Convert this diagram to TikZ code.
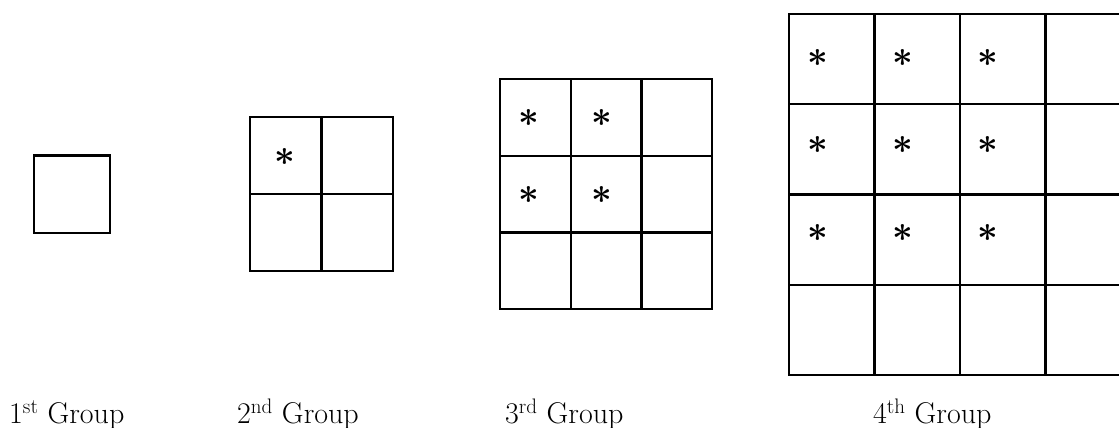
\documentclass[tikz,border=0pt]{standalone}
\begin{document}
\begin{tikzpicture}[x=1pt,y=-1pt,
  cell/.style={draw, line width=2.4pt, inner sep=0pt, outer sep=0pt},
  star/.style={inner sep=0pt, font=\fontsize{24}{24}\selectfont\boldmath, scale=1.45},
  lab/.style={anchor=base west, inner sep=0pt, font=\fontsize{30}{32}\selectfont}]
\useasboundingbox (0,0) rectangle (1119,428);
\clip (0,0) rectangle (1119,428);
% group 1
\node[cell, minimum width=76pt, minimum height=77.5pt] (g1) at (72,194.25) {};
% group 2
\foreach \i in {0,1}{\foreach \j in {0,1}{
  \node[cell, minimum width=71.5pt, minimum height=77pt] (g2-\i-\j) at ({250+71.5*(\i+0.5)},{117+77*(\j+0.5)}) {};
}}
% group 3
\foreach \i in {0,1,2}{\foreach \j in {0,1,2}{
  \node[cell, minimum width=70.7pt, minimum height=76.7pt] (g3-\i-\j) at ({500+70.7*(\i+0.5)},{79+76.7*(\j+0.5)}) {};
}}
% group 4
\foreach \i in {0,1,2,3}{\foreach \j in {0,1,2,3}{
  \node[cell, minimum width=85.5pt, minimum height=90.25pt] (g4-\i-\j) at ({789+85.5*(\i+0.5)},{14+90.25*(\j+0.5)}) {};
}}
% stars
\node[star] (s2) at (285,157) {$\ast$};
\foreach \x [count=\i] in {529,602}{\foreach \y [count=\j] in {118,195}{
  \node[star] (s3-\i-\j) at (\x,\y) {$\ast$};
}}
\foreach \x [count=\i] in {818,903,988}{\foreach \y [count=\j] in {58,145,233}{
  \node[star] (s4-\i-\j) at (\x,\y) {$\ast$};
}}
% labels
\node[lab] (l1) at (9,423) {1\textsuperscript{st} Group};
\node[lab] (l2) at (237,423) {2\textsuperscript{nd} Group};
\node[lab] (l3) at (505,423) {3\textsuperscript{rd} Group};
\node[lab] (l4) at (873,423) {4\textsuperscript{th} Group};
\end{tikzpicture}
\end{document}
